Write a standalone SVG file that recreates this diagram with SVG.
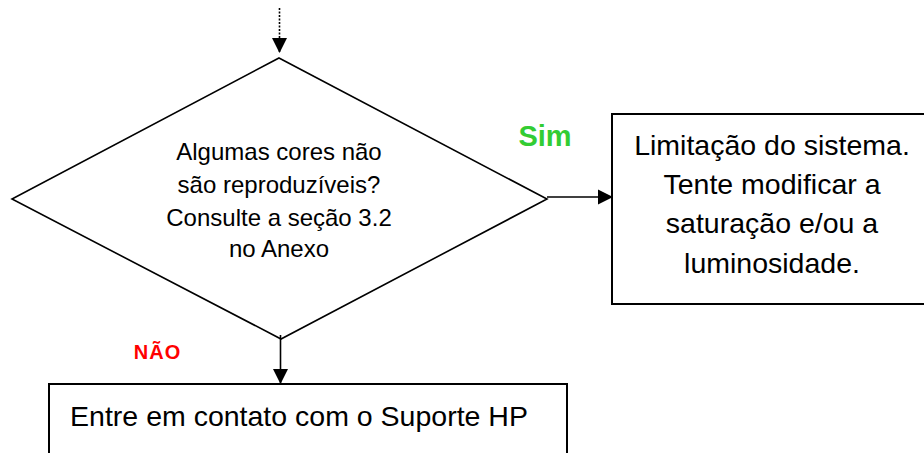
<svg xmlns="http://www.w3.org/2000/svg" width="924" height="453" viewBox="0 0 924 453">
<style>
.shape{fill:#fff;stroke:#000;stroke-width:2}
.dia{fill:#fff;stroke:#000;stroke-width:1.6}
.t{font-family:"Liberation Sans",Arial,sans-serif;fill:#000;text-anchor:middle}
.conn{stroke:#000;stroke-width:1.6;fill:none}
</style>
<defs>
<marker id="ah" markerUnits="userSpaceOnUse" markerWidth="16" markerHeight="16" viewBox="0 0 16 16" refX="15" refY="8" orient="auto">
<path d="M0,0.5 L15,8 L0,15.5 Z" fill="#000"/>
</marker>
</defs>
<g id="decision">
<polygon class="dia" points="279,58 547,199 281,339 12,199"/>
<text class="t" font-size="24" x="279" y="160">Algumas cores não</text>
<text class="t" font-size="24" x="279" y="193">são reproduzíveis?</text>
<text class="t" font-size="24" x="279" y="226">Consulte a seção 3.2</text>
<text class="t" font-size="24" x="279" y="257">no Anexo</text>
</g>
<g id="limitacao">
<rect class="shape" x="612" y="114" width="330" height="190"/>
<text class="t" font-size="28.5" x="772" y="155">Limitação do sistema.</text>
<text class="t" font-size="28.5" x="772" y="194">Tente modificar a</text>
<text class="t" font-size="28.5" x="772" y="233">saturação e/ou a</text>
<text class="t" font-size="28.5" x="772" y="273">luminosidade.</text>
</g>
<g id="suporte">
<rect class="shape" x="49" y="384" width="518" height="90"/>
<text class="t" font-size="28.5" x="299" y="426">Entre em contato com o Suporte HP</text>
</g>
<g id="connectors">
<line class="conn" x1="279.5" y1="8" x2="279.5" y2="53" stroke-dasharray="2,1.5" stroke-width="2" marker-end="url(#ah)"/>
<line class="conn" x1="547" y1="197" x2="613" y2="197" marker-end="url(#ah)"/>
<line class="conn" x1="280.5" y1="335" x2="280.5" y2="384" marker-end="url(#ah)"/>
<text font-family="Liberation Sans,Arial,sans-serif" font-weight="bold" font-size="29" fill="#33CC33" x="545" y="146" text-anchor="middle">Sim</text>
<text font-family="Liberation Sans,Arial,sans-serif" font-weight="bold" font-size="20" fill="#FF0000" x="157.5" y="359" text-anchor="middle" letter-spacing="1">NÃO</text>
</g>
</svg>
